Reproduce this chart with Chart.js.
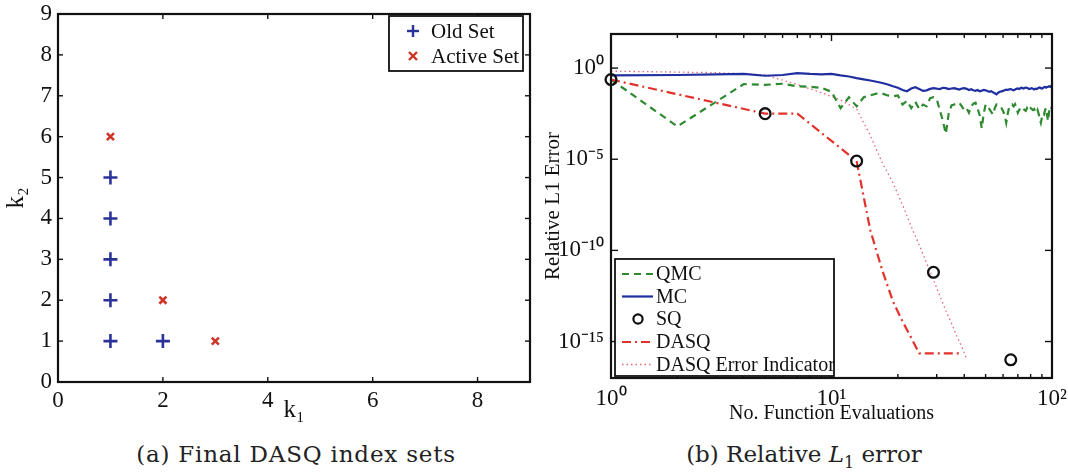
<!DOCTYPE html>
<html><head><meta charset="utf-8">
<script src="https://cdn.jsdelivr.net/npm/chart.js@4/dist/chart.umd.min.js"></script>
<style>
body{margin:0;background:#fff;width:1068px;height:473px;overflow:hidden;position:relative;font-family:"DejaVu Serif",serif}
#c1{position:absolute;left:0;top:0}
#c2{position:absolute;left:540px;top:0}
.cap{position:absolute;top:440px;font-size:23px;line-height:28px;color:#222;white-space:nowrap;transform:translateX(-50%)}
</style></head><body>
<canvas id="c1" width="540" height="425"></canvas>
<canvas id="c2" width="528" height="430"></canvas>
<div class="cap" style="left:296px;letter-spacing:0.8px">(a) Final DASQ index sets</div>
<div class="cap" style="left:804px">(b) Relative <i>L</i><sub style="font-size:16px">1</sub> error</div>
<script>
// ---------- (a) index sets ----------
const oldK1 = [1, 1, 1, 1, 1, 2];
const oldK2 = [1, 2, 3, 4, 5, 1];
const activeK1 = [1, 2, 3];
const activeK2 = [6, 2, 1];
const k1Ticks = [0, 2, 4, 6, 8];
const k2Ticks = [0, 1, 2, 3, 4, 5, 6, 7, 8, 9];

// ---------- (b) relative L1 error (values stored as log10 of error) ----------
const sqN = [1, 5, 13, 29, 65];
const sqLog10 = [-0.63, -2.5, -5.1, -11.2, -16.0];

const dasqN = [1, 5, 7, 13, 15, 17, 19, 21, 23, 25, 39];
const dasqLog10 = [-0.63, -2.5, -2.5, -5.1, -8.9, -11.1, -12.8, -13.9, -14.8, -15.65, -15.65];

const errIndN = [1, 3, 5, 7, 9, 11, 13, 15, 17, 19, 21, 23, 25, 27, 29, 31, 33, 35, 37, 39, 41];
const errIndLog10 = [-0.17, -0.25, -0.38, -0.9, -1.35, -1.75, -2.25, -3.7, -5.2, -6.3, -7.5, -8.7, -9.7, -10.7, -11.6, -12.5, -13.3, -14.0, -14.7, -15.3, -15.95];

const mcN = [1,2,3,4,5,6,7,8,9,10,11,12,13,14,15,16,17,18,19,20,21,22,23,24,25,26,27,28,29,30,31,32,33,34,35,36,37,38,39,40,41,42,43,44,45,46,47,48,49,50,51,52,53,54,55,56,57,58,59,60,61,62,63,64,65,66,67,68,69,70,71,72,73,74,75,76,77,78,79,80,81,82,83,84,85,86,87,88,89,90,91,92,93,94,95,96,97,98,99,100];
const mcLog10 = [-0.40,-0.38,-0.34,-0.32,-0.42,-0.38,-0.28,-0.32,-0.34,-0.32,
 -0.40,-0.46,-0.55,-0.62,-0.68,-0.75,-0.82,-0.90,-1.00,-1.08,
 -1.20,-1.27,-1.12,-1.05,-1.15,-1.25,-1.22,-1.14,-1.10,-1.13,
 -1.15,-1.08,-1.10,-1.15,-1.12,-1.10,-1.14,-1.18,-1.12,-1.10,
 -1.14,-1.20,-1.16,-1.22,-1.25,-1.20,-1.27,-1.24,-1.20,-1.22,
 -1.26,-1.30,-1.27,-1.33,-1.38,-1.44,-1.35,-1.30,-1.28,-1.25,
 -1.22,-1.18,-1.20,-1.17,-1.15,-1.19,-1.22,-1.18,-1.14,-1.12,
 -1.15,-1.10,-1.08,-1.12,-1.10,-1.07,-1.08,-1.12,-1.15,-1.12,
 -1.10,-1.14,-1.17,-1.13,-1.15,-1.12,-1.08,-1.06,-1.10,-1.12,
 -1.09,-1.05,-1.03,-1.07,-1.04,-1.02,-1.00,-1.03,-0.99,-0.98];

const qmcN = [1,2,4,5,6,7,8,9,10,11,12,13,14,15,16,17,18,19,20,21,22,23,24,25,26,27,28,29,30,31,32,33,34,35,36,37,38,39,40,41,42,43,44,45,46,47,48,49,50,51,52,53,54,55,56,57,58,59,60,61,62,63,64,65,66,67,68,69,70,71,72,73,74,75,76,77,78,79,80,81,82,83,84,85,86,87,88,89,90,91,92,93,94,95,96,97,98,99,100];
const qmcLog10 = [-0.63,-3.2,-0.88,-0.92,-0.86,-1.0,-1.03,-1.08,-1.3,
 -2.2,-1.6,-2.1,-1.6,-1.5,-1.4,-1.4,-1.5,-1.55,-1.5,
 -2.0,-1.8,-2.2,-1.85,-2.25,-2.0,-2.1,-1.65,-1.6,-1.7,
 -2.3,-2.9,-3.6,-2.5,-2.05,-2.0,-1.95,-1.9,-2.1,-2.3,
 -2.2,-2.45,-2.1,-1.95,-1.9,-2.2,-2.6,-3.3,-2.5,-2.0,
 -2.1,-2.25,-2.4,-2.55,-2.2,-2.0,-2.05,-2.15,-2.2,-2.35,
 -2.6,-3.0,-2.5,-2.1,-2.05,-2.0,-2.1,-1.98,-2.2,-2.45,
 -2.3,-2.15,-2.2,-2.2,-2.3,-2.35,-2.2,-2.35,-2.3,-2.2,
 -2.25,-2.3,-2.25,-2.4,-2.45,-2.3,-2.5,-2.8,-3.0,-2.7,
 -2.5,-2.55,-2.3,-2.2,-2.6,-2.9,-2.4,-2.2,-2.3,-2.1];

const xTickVals = [1,2,3,4,5,6,7,8,9,10,20,30,40,50,60,70,80,90,100];
const xTickLabels = {1: '10⁰', 10: '10¹', 100: '10²'};
const yTickVals = [1, 1e-5, 1e-10, 1e-15];
const yTickLabels = ['10⁰', '10⁻⁵', '10⁻¹⁰', '10⁻¹⁵'];

const COL = {
  old: '#2b3399', active: '#cf3527',
  mc: '#1f2fa0', qmc: '#2f8a2f', dasq: '#e2322b', err: '#e8667a', sq: '#111111'
};
const SERIF = '"Liberation Serif", "Times New Roman", serif';

function pts(xs, ls) { return xs.map((x, i) => ({x: x, y: Math.pow(10, ls[i])})); }
function xy(xs, ys) { return xs.map((x, i) => ({x: x, y: ys[i]})); }

function seg(ctx, x1, y1, x2, y2) { ctx.beginPath(); ctx.moveTo(x1, y1); ctx.lineTo(x2, y2); ctx.stroke(); }

function framePlugin(xLen, yLen) {
  return {
    id: 'frame',
    afterDraw(chart) {
      const ctx = chart.ctx, a = chart.chartArea, xs = chart.scales.x, ys = chart.scales.y;
      ctx.save();
      ctx.strokeStyle = '#111'; ctx.lineWidth = 1.4; ctx.setLineDash([]);
      xs.ticks.forEach(t => {
        const p = xs.getPixelForValue(t.value);
        if (p <= a.left + 1 || p >= a.right - 1) return;
        const L = xLen(t.value);
        seg(ctx, p, a.bottom, p, a.bottom - L);
        seg(ctx, p, a.top, p, a.top + L);
      });
      ys.ticks.forEach(t => {
        const p = ys.getPixelForValue(t.value);
        if (p <= a.top + 1 || p >= a.bottom - 1) return;
        const L = yLen(t.value);
        seg(ctx, a.left, p, a.left + L, p);
        seg(ctx, a.right, p, a.right - L, p);
      });
      ctx.lineWidth = 2.2;
      ctx.strokeRect(a.left, a.top, a.right - a.left, a.bottom - a.top);
      ctx.restore();
    }
  };
}

function drawPlus(ctx, x, y, r) { seg(ctx, x - r, y, x + r, y); seg(ctx, x, y - r, x, y + r); }
function drawX(ctx, x, y, r) { seg(ctx, x - r, y - r, x + r, y + r); seg(ctx, x - r, y + r, x + r, y - r); }

// ---------- chart (a) ----------
const legendA = {
  id: 'legendA',
  afterDraw(chart) {
    const ctx = chart.ctx;
    ctx.save();
    ctx.fillStyle = '#fff'; ctx.strokeStyle = '#111'; ctx.lineWidth = 1.8;
    ctx.fillRect(389, 16, 134, 55); ctx.strokeRect(389, 16, 134, 55);
    ctx.lineWidth = 2.4;
    ctx.strokeStyle = COL.old; drawPlus(ctx, 413, 31, 6);
    ctx.strokeStyle = COL.active; drawX(ctx, 413, 56, 4);
    ctx.fillStyle = '#111'; ctx.font = '21px ' + SERIF; ctx.textBaseline = 'middle'; ctx.textAlign = 'left';
    ctx.fillText(chart.data.datasets[0].label, 431, 32);
    ctx.fillText(chart.data.datasets[1].label, 431, 57);
    ctx.restore();
  }
};

new Chart(document.getElementById('c1'), {
  type: 'scatter',
  data: {
    datasets: [
      {label: 'Old Set', data: xy(oldK1, oldK2), pointStyle: 'cross', pointRadius: 7, pointBorderWidth: 2.6,
       borderColor: COL.old, backgroundColor: COL.old, clip: false},
      {label: 'Active Set', data: xy(activeK1, activeK2), pointStyle: 'crossRot', pointRadius: 5, pointBorderWidth: 2.6,
       borderColor: COL.active, backgroundColor: COL.active, clip: false}
    ]
  },
  options: {
    responsive: false, animation: false, events: [],
    layout: {padding: {top: 14, right: 10, left: 0, bottom: 0}},
    plugins: {legend: {display: false}, tooltip: {enabled: false}},
    scales: {
      x: {
        type: 'linear', min: 0, max: 9,
        afterBuildTicks: s => { s.ticks = k1Ticks.map(v => ({value: v})); },
        afterFit: s => { s.height = 43; s.paddingLeft = 0; s.paddingRight = 0; },
        grid: {display: false, drawTicks: false}, border: {display: false},
        ticks: {padding: 5, color: '#111', font: {family: SERIF, size: 23}, maxRotation: 0, autoSkip: false},
        title: {display: true, text: 'k₁', color: '#111', font: {family: SERIF, size: 25}, padding: {top: 0, bottom: 0}}
      },
      y: {
        type: 'linear', min: 0, max: 9,
        afterBuildTicks: s => { s.ticks = k2Ticks.map(v => ({value: v})); },
        afterFit: s => { s.width = 58; s.paddingTop = 0; s.paddingBottom = 0; },
        grid: {display: false, drawTicks: false}, border: {display: false},
        ticks: {padding: 6, color: '#111', font: {family: SERIF, size: 23}, autoSkip: false},
        title: {display: true, text: 'k₂', color: '#111', font: {family: SERIF, size: 25}, padding: {top: 1, bottom: 0}}
      }
    }
  },
  plugins: [framePlugin(() => 5, () => 5), legendA]
});

// ---------- chart (b) ----------
const legendB = {
  id: 'legendB',
  afterDraw(chart) {
    const ctx = chart.ctx;
    const order = [1, 0, 4, 2, 3]; // QMC, MC, SQ, DASQ, Indicator
    const dsAll = chart.data.datasets;
    ctx.save();
    ctx.fillStyle = '#fff'; ctx.strokeStyle = '#111'; ctx.lineWidth = 1.8;
    ctx.fillRect(75, 259, 219, 117); ctx.strokeRect(75, 259, 219, 117);
    const ys = [274, 296.5, 319, 342, 364.5];
    order.forEach((di, k) => {
      const ds = dsAll[di], y = ys[k];
      if (ds.showLine === false) {
        ctx.setLineDash([]); ctx.strokeStyle = ds.borderColor; ctx.lineWidth = 2.2;
        ctx.beginPath(); ctx.arc(98, y, 4.6, 0, Math.PI * 2); ctx.stroke();
      } else {
        ctx.setLineDash(ds.borderDash || []); ctx.strokeStyle = ds.borderColor; ctx.lineWidth = ds.borderWidth;
        seg(ctx, 82, y, 113, y);
      }
      ctx.setLineDash([]);
      ctx.fillStyle = '#111'; ctx.font = '20px ' + SERIF; ctx.textBaseline = 'middle'; ctx.textAlign = 'left';
      ctx.fillText(ds.label, 116, y + 1);
    });
    ctx.restore();
  }
};

new Chart(document.getElementById('c2'), {
  type: 'scatter',
  data: {
    datasets: [
      {label: 'MC', data: pts(mcN, mcLog10), showLine: true, borderColor: COL.mc, borderWidth: 2.2,
       pointRadius: 0, order: 3},
      {label: 'QMC', data: pts(qmcN, qmcLog10), showLine: true, borderColor: COL.qmc, borderWidth: 2.2,
       borderDash: [7, 5], pointRadius: 0, order: 4},
      {label: 'DASQ', data: pts(dasqN, dasqLog10), showLine: true, borderColor: COL.dasq, borderWidth: 2.2,
       borderDash: [9, 4, 2, 4], pointRadius: 0, order: 2},
      {label: 'DASQ Error Indicator', data: pts(errIndN, errIndLog10), showLine: true, borderColor: COL.err,
       borderWidth: 1.3, borderDash: [1.5, 3], pointRadius: 0, order: 5},
      {label: 'SQ', data: pts(sqN, sqLog10), showLine: false, borderColor: COL.sq, backgroundColor: 'rgba(0,0,0,0)',
       pointStyle: 'circle', pointRadius: 5.4, pointBorderWidth: 2.3, order: 0, clip: false}
    ]
  },
  options: {
    responsive: false, animation: false, events: [],
    layout: {padding: {top: 34, right: 16, left: 0, bottom: 0}},
    plugins: {legend: {display: false}, tooltip: {enabled: false}},
    scales: {
      x: {
        type: 'logarithmic', min: 1, max: 100,
        afterBuildTicks: s => { s.ticks = xTickVals.map(v => ({value: v})); },
        afterFit: s => { s.height = 52; s.paddingLeft = 0; s.paddingRight = 0; },
        grid: {display: false, drawTicks: false}, border: {display: false},
        ticks: {padding: 7, color: '#111', font: {family: SERIF, size: 23}, maxRotation: 0, autoSkip: false,
                callback: v => xTickLabels[v] || ''},
        title: {display: true, text: 'No. Function Evaluations', color: '#111', font: {family: SERIF, size: 20},
                padding: {top: 0, bottom: 4}}
      },
      y: {
        type: 'logarithmic', min: 1e-17, max: 74,
        afterBuildTicks: s => { s.ticks = yTickVals.map(v => ({value: v})); },
        afterFit: s => { s.width = 71; s.paddingTop = 0; s.paddingBottom = 0; },
        grid: {display: false, drawTicks: false}, border: {display: false},
        ticks: {padding: 7, color: '#111', font: {family: SERIF, size: 23}, autoSkip: false,
                callback: (v, i) => yTickLabels[i]},
        title: {display: true, text: 'Relative L1 Error', color: '#111', font: {family: SERIF, size: 21},
                padding: {top: 1, bottom: 0}}
      }
    }
  },
  plugins: [framePlugin(v => ([1, 10, 100].includes(v) ? 7 : 4), () => 7), legendB]
});
</script>
</body></html>
